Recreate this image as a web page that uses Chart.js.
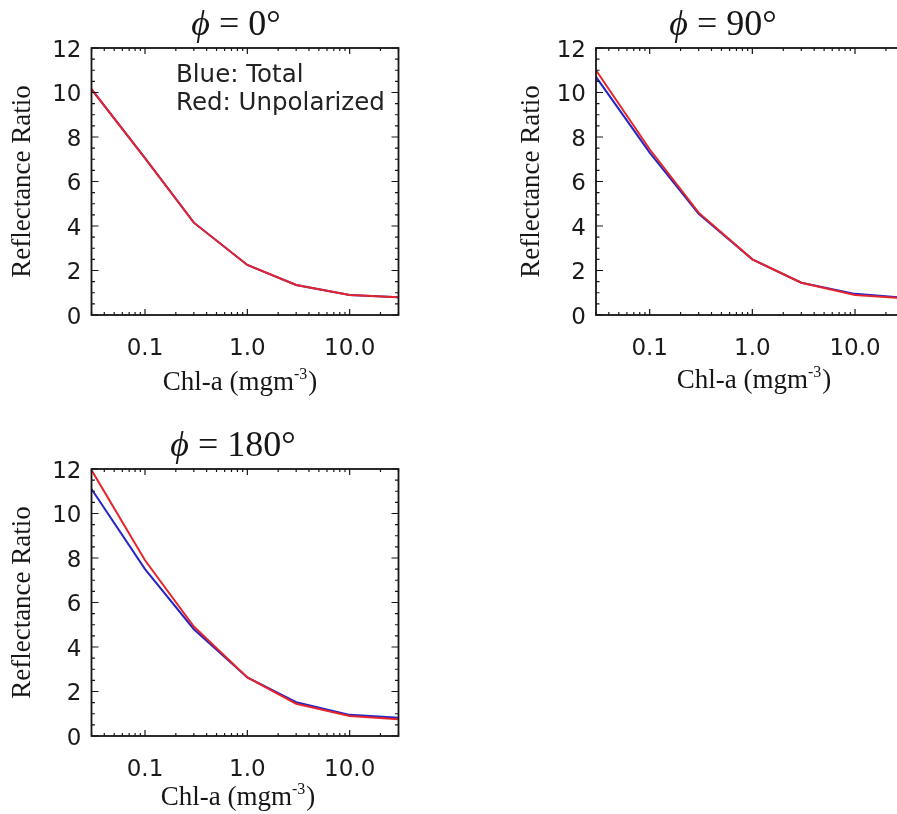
<!DOCTYPE html>
<html>
<head>
<meta charset="utf-8">
<script src="https://cdn.jsdelivr.net/npm/chart.js"></script>
<style>
  html, body { margin: 0; padding: 0; background: #fff; overflow: hidden; }
  body { width: 897px; height: 814px; position: relative; }
  canvas { position: absolute; }
</style>
</head>
<body>
<canvas id="g0" width="450" height="400" style="left:0;top:0"></canvas>
<canvas id="g90" width="450" height="400" style="left:480px;top:0"></canvas>
<canvas id="g180" width="450" height="414" style="left:0;top:400px"></canvas>
<script>
"use strict";
// Valores (Chl-a em mg m-3, razão de reflectância)
const chl = [0.03, 0.1, 0.3, 1, 3, 10, 30];

const total0 = [10.15, 7.05, 4.15, 2.25, 1.35, 0.9, 0.8];
const naoPol0 = [10.15, 7.05, 4.15, 2.25, 1.35, 0.9, 0.8];

const total90 = [10.7, 7.3, 4.55, 2.5, 1.45, 0.95, 0.78];
const naoPol90 = [11.0, 7.45, 4.6, 2.5, 1.45, 0.9, 0.75];

const total180 = [11.1, 7.5, 4.8, 2.63, 1.52, 0.95, 0.82];
const naoPol180 = [11.95, 7.9, 4.92, 2.63, 1.45, 0.9, 0.75];

// rótulos dos eixos
const xMaiores = [0.1, 1, 10];
const xRotulos = ['0.1', '1.0', '10.0'];
const yMaiores = [0, 2, 4, 6, 8, 10, 12];

const AZUL = '#2424c8';
const VERMELHO = '#e5252b';
const TINTA = '#161616';
const fonteTick = '"DejaVu Sans", sans-serif';
const fonteSerif = '"Liberation Serif", "DejaVu Serif", serif';

// Moldura estilo IDL: caixa fechada com ticks para dentro nos quatro lados
const moldura = {
  id: 'moldura',
  afterDatasetsDraw(chart) {
    const { ctx, chartArea: a, scales: { x, y } } = chart;
    ctx.save();
    ctx.strokeStyle = TINTA;
    ctx.lineWidth = 1.2;
    ctx.beginPath();
    // ticks do eixo x (maiores e menores do log)
    for (let d = 0.01; d <= 10; d *= 10) {
      for (let m = 1; m <= 9; m++) {
        const v = m * d;
        if (v < x.min || v > x.max) continue;
        const px = x.getPixelForValue(v);
        const len = m === 1 ? 6 : 3;
        ctx.moveTo(px, a.bottom); ctx.lineTo(px, a.bottom - len);
        ctx.moveTo(px, a.top); ctx.lineTo(px, a.top + len);
      }
    }
    // ticks do eixo y a cada 0.5
    for (let v = 0; v <= 12; v += 0.5) {
      const py = y.getPixelForValue(v);
      const len = v % 2 === 0 ? 7 : 3.5;
      ctx.moveTo(a.left, py); ctx.lineTo(a.left + len, py);
      ctx.moveTo(a.right, py); ctx.lineTo(a.right - len, py);
    }
    ctx.stroke();
    ctx.lineWidth = 1.8;
    ctx.strokeRect(a.left, a.top, a.right - a.left, a.bottom - a.top);
    ctx.restore();
  }
};

// Títulos, rótulos dos eixos e anotação de cores
const textos = {
  id: 'textos',
  afterDraw(chart, args, o) {
    const { ctx, chartArea: a } = chart;
    ctx.save();
    ctx.fillStyle = TINTA;
    ctx.textBaseline = 'alphabetic';
    ctx.textAlign = 'left';

    // título "ϕ = N°"
    const fPhi = 'italic 36px ' + fonteSerif;
    const fTit = '36px ' + fonteSerif;
    const resto = ' = ' + o.angulo + '°';
    ctx.font = fPhi;
    const wPhi = ctx.measureText('ϕ').width;
    ctx.font = fTit;
    const wResto = ctx.measureText(resto).width;
    const x0 = o.tituloX - (wPhi + wResto) / 2;
    const yT = a.top - 13;
    ctx.font = fPhi;
    ctx.fillText('ϕ', x0, yT);
    ctx.font = fTit;
    ctx.fillText(resto, x0 + wPhi, yT);

    // rótulo do eixo y
    ctx.save();
    ctx.translate(o.yTituloX, (a.top + a.bottom) / 2);
    ctx.rotate(-Math.PI / 2);
    ctx.textAlign = 'center';
    ctx.textBaseline = 'middle';
    ctx.font = '27px ' + fonteSerif;
    ctx.fillText('Reflectance Ratio', 0, 0);
    ctx.restore();

    // rótulo do eixo x com expoente
    const fX = '27px ' + fonteSerif;
    const fSup = '16px ' + fonteSerif;
    ctx.font = fX;
    const w1 = ctx.measureText('Chl-a (mgm').width;
    const w3 = ctx.measureText(')').width;
    ctx.font = fSup;
    const w2 = ctx.measureText('-3').width + 1;
    let xx = o.xTituloX - (w1 + w2 + w3) / 2;
    ctx.font = fX;
    ctx.fillText('Chl-a (mgm', xx, o.xTituloY);
    xx += w1;
    ctx.font = fSup;
    ctx.fillText('-3', xx, o.xTituloY - 11);
    xx += w2;
    ctx.font = fX;
    ctx.fillText(')', xx, o.xTituloY);

    // anotação (só no primeiro painel)
    if (o.nota) {
      ctx.font = '24.5px ' + fonteTick;
      ctx.fillStyle = '#222';
      ctx.fillText('Blue: Total', 176, 82);
      ctx.fillText('Red: Unpolarized', 176, 110);
    }
    ctx.restore();
  }
};

function renderPainel(canvasId, total, naoPol, cfg) {
  const ctx = document.getElementById(canvasId).getContext('2d');
  return new Chart(ctx, {
    type: 'line',
    data: {
      labels: chl,
      datasets: [{
        label: 'Unpolarized',
        data: chl.map((c, i) => ({ x: c, y: naoPol[i] })),
        borderColor: VERMELHO,
        borderWidth: 2,
        pointRadius: 0,
        tension: 0,
        fill: false
      }, {
        label: 'Total',
        data: chl.map((c, i) => ({ x: c, y: total[i] })),
        borderColor: AZUL,
        borderWidth: 2,
        pointRadius: 0,
        tension: 0,
        fill: false
      }]
    },
    options: {
      responsive: false,
      animation: false,
      events: [],
      layout: { padding: { left: 0, top: cfg.topo, right: cfg.direita, bottom: 0 } },
      plugins: {
        legend: { display: false },
        tooltip: { enabled: false },
        textos: cfg.textos
      },
      scales: {
        x: {
          type: 'logarithmic',
          min: 0.03,
          max: 30,
          grid: { display: false },
          border: { display: false },
          afterBuildTicks: (s) => { s.ticks = xMaiores.map(v => ({ value: v })); },
          afterFit: (s) => { s.height = cfg.xAltura; },
          ticks: {
            autoSkip: false,
            maxRotation: 0,
            padding: 12,
            color: '#1a1a1a',
            font: { family: fonteTick, size: 23 },
            callback: (v) => xRotulos[xMaiores.indexOf(v)] ?? ''
          }
        },
        y: {
          type: 'linear',
          min: 0,
          max: 12,
          grid: { display: false },
          border: { display: false },
          afterBuildTicks: (s) => { s.ticks = yMaiores.map(v => ({ value: v })); },
          afterFit: (s) => { s.width = cfg.yLargura; },
          ticks: {
            padding: 2,
            labelOffset: 3,
            color: '#1a1a1a',
            font: { family: fonteTick, size: 23 },
            callback: (v) => String(v)
          }
        }
      }
    },
    plugins: [moldura, textos]
  });
}

renderPainel('g0', total0, naoPol0, {
  topo: 48, direita: 51.5, xAltura: 85, yLargura: 91.5,
  textos: { angulo: 0, tituloX: 236, yTituloX: 23, xTituloX: 240, xTituloY: 390, nota: true }
});
renderPainel('g90', total90, naoPol90, {
  topo: 48, direita: 26, xAltura: 85, yLargura: 116,
  textos: { angulo: 90, tituloX: 243, yTituloX: 52, xTituloX: 274, xTituloY: 388, nota: false }
});
renderPainel('g180', total180, naoPol180, {
  topo: 69, direita: 51.5, xAltura: 78, yLargura: 91.5,
  textos: { angulo: 180, tituloX: 233, yTituloX: 23, xTituloX: 238, xTituloY: 405, nota: false }
});
</script>
</body>
</html>
